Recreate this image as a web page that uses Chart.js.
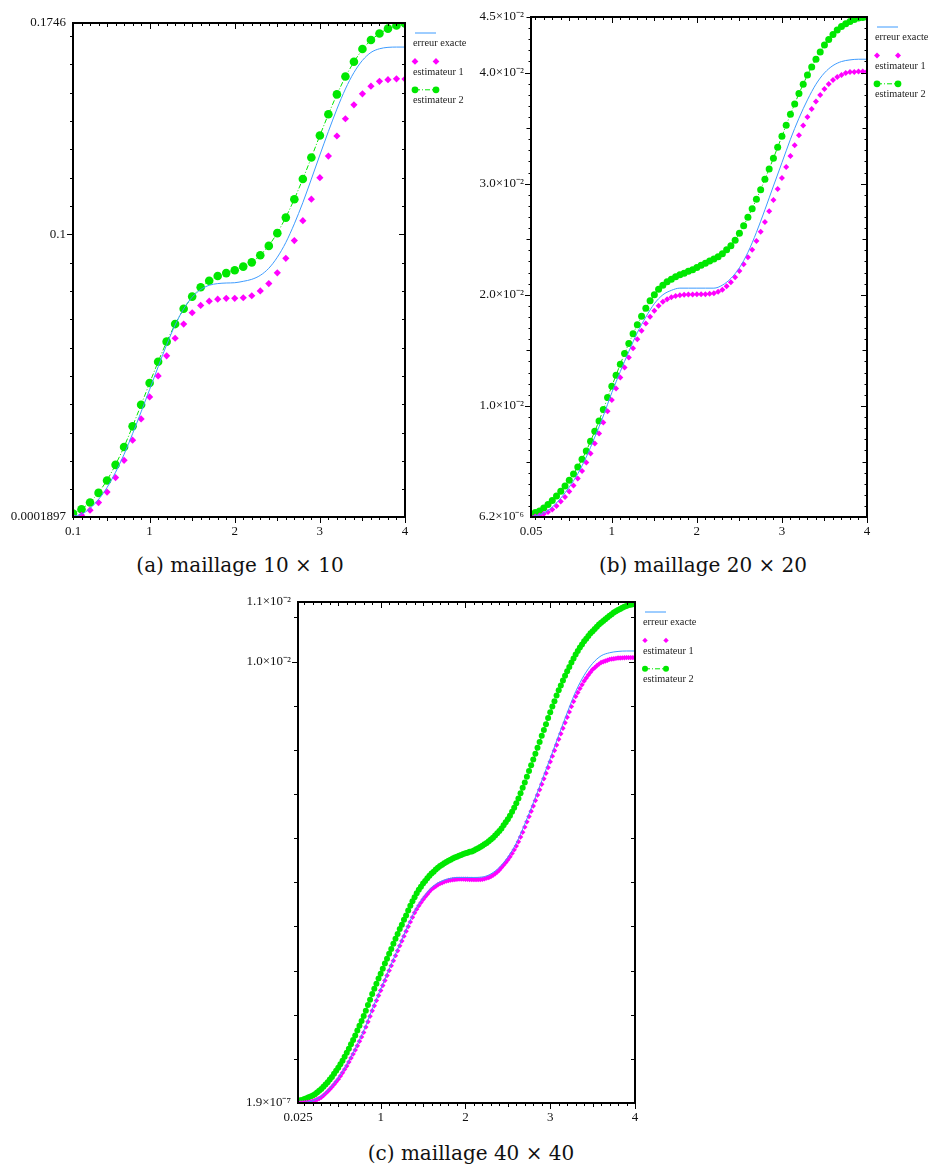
<!DOCTYPE html>
<html>
<head>
<meta charset="utf-8">
<script src="https://cdn.jsdelivr.net/npm/chart.js@4.4.1/dist/chart.umd.min.js"></script>
<style>
  body { margin: 0; background: #fff; width: 931px; height: 1172px; position: relative; overflow: hidden; }
  canvas { position: absolute; }
  .cap { position: absolute; font-family: 'DejaVu Serif'; font-size: 20px; line-height: 20px; color: #111; white-space: nowrap; transform: translateX(-50%); }
</style>
</head>
<body>
<canvas id="chartA" width="470" height="545" style="left:0px;top:0px"></canvas>
<canvas id="chartB" width="461" height="545" style="left:470px;top:0px"></canvas>
<canvas id="chartC" width="480" height="545" style="left:230px;top:585px"></canvas>
<div class="cap" style="left:240px;top:555px">(a) maillage 10 × 10</div>
<div class="cap" style="left:703px;top:555px">(b) maillage 20 × 20</div>
<div class="cap" style="left:471px;top:1143px">(c) maillage 40 × 40</div>
<script>
// ---- maillage 10 x 10 ----
const xA = [0.1,0.2,0.3,0.4,0.5,0.6,0.7,0.8,0.9,1,1.1,1.2,1.3,1.4,1.5,1.6,1.7,1.8,1.9,2,2.1,2.2,2.3,2.4,2.5,2.6,2.7,2.8,2.9,3,3.1,3.2,3.3,3.4,3.5,3.6,3.7,3.8,3.9,4];
const exactA = [0.0004,0.0012,0.0032,0.0064,0.0106,0.0160,0.0223,0.0296,0.0373,0.0452,0.0532,0.0610,0.0680,0.0737,0.0778,0.0805,0.0820,0.0826,0.0828,0.0829,0.0834,0.0841,0.0855,0.0880,0.0919,0.0971,0.1037,0.1112,0.1195,0.1280,0.1363,0.1442,0.1513,0.1571,0.1614,0.1642,0.1655,0.1660,0.1661,0.1661];
const est1A = [0.0001897,0.0008,0.0026,0.0053,0.0090,0.0141,0.0202,0.0273,0.0348,0.0426,0.0500,0.0571,0.0633,0.0683,0.0723,0.0749,0.0764,0.0771,0.0774,0.0774,0.0776,0.0783,0.0800,0.0826,0.0864,0.0915,0.0978,0.1048,0.1124,0.1200,0.1276,0.1347,0.1408,0.1457,0.1496,0.1523,0.1540,0.1546,0.1549,0.1548];
const est2A = [0.0014,0.0029,0.0053,0.0087,0.0131,0.0186,0.0249,0.0322,0.0398,0.0475,0.0550,0.0621,0.0683,0.0737,0.0780,0.0813,0.0836,0.0853,0.0863,0.0873,0.0886,0.0901,0.0926,0.0959,0.1004,0.1059,0.1124,0.1195,0.1271,0.1349,0.1424,0.1494,0.1557,0.1609,0.1654,0.1686,0.1709,0.1726,0.1737,0.1744];
const xTicksA = [0.1, 1, 2, 3, 4];
const yTicksA = [0.0001897, 0.1, 0.1746];
const yLabelsA = ['0.0001897', '0.1', '0.1746'];

// ---- maillage 20 x 20 ----
const xB = [0.05,0.1,0.15,0.2,0.25,0.3,0.35,0.4,0.45,0.5,0.55,0.6,0.65,0.7,0.75,0.8,0.85,0.9,0.95,1,
  1.05,1.1,1.15,1.2,1.25,1.3,1.35,1.4,1.45,1.5,1.55,1.6,1.65,1.7,1.75,1.8,1.85,1.9,1.95,2,
  2.05,2.1,2.15,2.2,2.25,2.3,2.35,2.4,2.45,2.5,2.55,2.6,2.65,2.7,2.75,2.8,2.85,2.9,2.95,3,
  3.05,3.1,3.15,3.2,3.25,3.3,3.35,3.4,3.45,3.5,3.55,3.6,3.65,3.7,3.75,3.8,3.85,3.9,3.95,4];
const est1B = [0.0000062,0.00006,0.00015,0.00027,0.00045,0.00069,0.00099,0.00139,0.00180,0.00229,
  0.00283,0.00346,0.00414,0.00490,0.00571,0.00661,0.00751,0.00850,0.00952,0.01054,
  0.01157,0.01256,0.01346,0.01436,0.01520,0.01601,0.01676,0.01742,0.01802,0.01856,
  0.01901,0.01937,0.01961,0.01979,0.01990,0.01997,0.02000,0.02002,0.02003,0.02004,
  0.02004,0.02006,0.02009,0.02015,0.02027,0.02045,0.02076,0.02112,0.02157,0.02214,
  0.02274,0.02337,0.02405,0.02484,0.02568,0.02655,0.02751,0.02853,0.02952,0.03051,
  0.03150,0.03250,0.03346,0.03436,0.03523,0.03601,0.03673,0.03739,0.03799,0.03853,
  0.03896,0.03932,0.03959,0.03979,0.03995,0.04004,0.04006,0.04009,0.04009,0.04009];
const est2B = [0.00024,0.00040,0.00054,0.00081,0.00114,0.00150,0.00190,0.00232,0.00280,0.00332,
  0.00388,0.00450,0.00520,0.00595,0.00682,0.00772,0.00865,0.00968,0.01075,0.01178,
  0.01277,0.01376,0.01472,0.01562,0.01649,0.01730,0.01808,0.01880,0.01946,0.02000,
  0.02049,0.02087,0.02117,0.02141,0.02162,0.02180,0.02195,0.02211,0.02225,0.02245,
  0.02265,0.02285,0.02304,0.02322,0.02342,0.02369,0.02405,0.02441,0.02490,0.02553,
  0.02622,0.02697,0.02775,0.02860,0.02946,0.03040,0.03132,0.03229,0.03328,0.03427,
  0.03526,0.03625,0.03718,0.03811,0.03895,0.03979,0.04051,0.04120,0.04186,0.04247,
  0.04297,0.04342,0.04382,0.04414,0.04439,0.04459,0.04477,0.04490,0.04495,0.04500];
const xExactB = [0.05,0.1,0.2,0.3,0.4,0.5,0.6,0.7,0.8,0.9,1,1.1,1.2,1.3,1.4,1.5,1.6,1.7,1.8,1.9,2,2.1,2.2,2.3,2.4,2.5,2.6,2.7,2.8,2.9,3,3.1,3.2,3.3,3.4,3.5,3.6,3.7,3.8,3.9,4];
const exactB = [0.00003,0.0001,0.00036,0.0009,0.0017,0.0027,0.0039,0.0054,0.0072,0.0091,0.0112,
  0.0131,0.0149,0.0166,0.0180,0.0192,0.0200,0.0204,0.0206,0.0206,0.0206,
  0.0206,0.0206,0.02087,0.02148,0.02243,0.02382,0.02562,0.02766,0.02979,0.03189,
  0.03400,0.03589,0.03754,0.03895,0.03997,0.04063,0.04099,0.04114,0.04120,0.04120];
const xTicksB = [0.05, 1, 2, 3, 4];
const yTicksB = [0.0000062, 0.01, 0.02, 0.03, 0.04, 0.045];
const yLabelsB = ['6.2×10⁻⁶', '1.0×10⁻²', '2.0×10⁻²', '3.0×10⁻²', '4.0×10⁻²', '4.5×10⁻²'];

// ---- maillage 40 x 40 ----
const xC = [0.025,0.05,0.075,0.1,0.125,0.15,0.175,0.2,0.225,0.25,0.275,0.3,0.325,0.35,0.375,0.4,0.425,0.45,0.475,0.5,
  0.525,0.55,0.575,0.6,0.625,0.65,0.675,0.7,0.725,0.75,0.775,0.8,0.825,0.85,0.875,0.9,0.925,0.95,0.975,1,
  1.025,1.05,1.075,1.1,1.125,1.15,1.175,1.2,1.225,1.25,1.275,1.3,1.325,1.35,1.375,1.4,1.425,1.45,1.475,1.5,
  1.525,1.55,1.575,1.6,1.625,1.65,1.675,1.7,1.725,1.75,1.775,1.8,1.825,1.85,1.875,1.9,1.925,1.95,1.975,2,
  2.025,2.05,2.075,2.1,2.125,2.15,2.175,2.2,2.225,2.25,2.275,2.3,2.325,2.35,2.375,2.4,2.425,2.45,2.475,2.5,
  2.525,2.55,2.575,2.6,2.625,2.65,2.675,2.7,2.725,2.75,2.775,2.8,2.825,2.85,2.875,2.9,2.925,2.95,2.975,3,
  3.025,3.05,3.075,3.1,3.125,3.15,3.175,3.2,3.225,3.25,3.275,3.3,3.325,3.35,3.375,3.4,3.425,3.45,3.475,3.5,
  3.525,3.55,3.575,3.6,3.625,3.65,3.675,3.7,3.725,3.75,3.775,3.8,3.825,3.85,3.875,3.9,3.925,3.95,3.975,4];
const est1C = [0.0000002,0.000001,0.000003,0.000005,0.000010,0.000017,0.000027,0.000040,0.000058,0.000079,
  0.000103,0.000130,0.000170,0.000213,0.000260,0.000310,0.000365,0.000422,0.000480,0.000540,
  0.000612,0.000686,0.000762,0.000840,0.000928,0.001018,0.001108,0.001200,0.001298,0.001398,
  0.001498,0.001600,0.001720,0.001842,0.001965,0.002090,0.002205,0.002320,0.002435,0.002550,
  0.002662,0.002775,0.002888,0.003000,0.003112,0.003225,0.003338,0.003450,0.003560,0.003670,
  0.003780,0.003890,0.003997,0.004103,0.004208,0.004310,0.004392,0.004468,0.004540,0.004610,
  0.004672,0.004730,0.004788,0.004840,0.004877,0.004912,0.004943,0.004970,0.004990,0.005010,
  0.005027,0.005040,0.005050,0.005058,0.005065,0.005070,0.005072,0.005072,0.005071,0.005070,
  0.005068,0.005065,0.005062,0.005060,0.005060,0.005062,0.005065,0.005070,0.005080,0.005095,
  0.005110,0.005130,0.005160,0.005195,0.005235,0.005280,0.005335,0.005390,0.005450,0.005510,
  0.005580,0.005655,0.005735,0.005820,0.005920,0.006025,0.006135,0.006250,0.006370,0.006490,
  0.006610,0.006730,0.006852,0.006975,0.007098,0.007220,0.007345,0.007472,0.007600,0.007730,
  0.007858,0.007985,0.008112,0.008240,0.008365,0.008490,0.008615,0.008740,0.008860,0.008980,
  0.009095,0.009210,0.009300,0.009390,0.009475,0.009560,0.009628,0.009695,0.009758,0.009820,
  0.009862,0.009905,0.009943,0.009980,0.009998,0.010015,0.010032,0.010050,0.010058,0.010065,
  0.010072,0.010080,0.010083,0.010085,0.010088,0.010090,0.010090,0.010090,0.010090,0.010090];
const est2C = [0.00005,0.00006,0.00007,0.00009,0.00011,0.00013,0.00015,0.00017,0.00020,0.00024,
  0.00028,0.00032,0.00037,0.00042,0.00047,0.00053,0.00059,0.00066,0.00073,0.00080,
  0.00088,0.00096,0.00105,0.00114,0.00123,0.00133,0.00143,0.00153,0.00164,0.00175,
  0.00186,0.00197,0.00209,0.00222,0.00234,0.00247,0.00259,0.00270,0.00282,0.00293,
  0.00304,0.00316,0.00327,0.00338,0.00349,0.00361,0.00372,0.00383,0.00394,0.00404,
  0.00415,0.00425,0.00436,0.00447,0.00457,0.00466,0.00475,0.00483,0.00490,0.00497,
  0.00503,0.00509,0.00515,0.00520,0.00524,0.00529,0.00533,0.00537,0.00540,0.00543,
  0.00546,0.00549,0.00551,0.00554,0.00556,0.00558,0.00560,0.00562,0.00564,0.00566,
  0.00567,0.00569,0.00570,0.00572,0.00575,0.00577,0.00580,0.00583,0.00586,0.00589,
  0.00593,0.00597,0.00601,0.00606,0.00611,0.00616,0.00622,0.00629,0.00636,0.00643,
  0.00651,0.00660,0.00669,0.00679,0.00690,0.00702,0.00714,0.00726,0.00739,0.00752,
  0.00765,0.00778,0.00791,0.00805,0.00818,0.00832,0.00845,0.00858,0.00872,0.00885,
  0.00898,0.00910,0.00923,0.00935,0.00946,0.00957,0.00968,0.00978,0.00988,0.00998,
  0.01007,0.01016,0.01024,0.01032,0.01039,0.01046,0.01052,0.01058,0.01064,0.01069,
  0.01074,0.01079,0.01084,0.01088,0.01092,0.01096,0.01100,0.01104,0.01107,0.01111,
  0.01114,0.01117,0.01119,0.01122,0.01124,0.01126,0.01128,0.01129,0.01130,0.01131];
const xExactC = [0.025,0.1,0.2,0.3,0.4,0.5,0.6,0.7,0.8,0.9,1,1.1,1.2,1.3,1.4,1.5,1.6,1.7,1.8,1.9,2,2.1,2.2,2.3,2.4,2.5,2.6,2.7,2.8,2.9,3,3.1,3.2,3.3,3.4,3.5,3.6,3.7,3.8,3.9,4];
const exactC = [0.0000002,0.00001,0.00005,0.00015,0.00033,0.00057,0.00087,0.00123,0.00164,0.00212,0.00258,
  0.00303,0.00348,0.00392,0.00434,0.00465,0.00488,0.00501,0.00508,0.00511,0.00511,
  0.00511,0.00512,0.00519,0.00534,0.00557,0.00589,0.00632,0.00680,0.00730,0.00781,
  0.00833,0.00884,0.00932,0.00969,0.00996,0.01013,0.01020,0.01023,0.01024,0.01024];
const xTicksC = [0.025, 1, 2, 3, 4];
const yTicksC = [0.00000019, 0.01, 0.01135];
const yLabelsC = ['1.9×10⁻⁷', '1.0×10⁻²', '1.1×10⁻²'];

const BLUE = '#3d9bff';
const MAGENTA = '#ff00ff';
const GREEN = '#00e800';

Chart.defaults.font.family = 'Liberation Serif';

function pts(xs, ys) {
  return xs.map((x, i) => ({ x: x, y: ys[i] }));
}

// cadre + petites graduations (style Maple)
const framePlugin = {
  id: 'frame',
  afterDraw(chart, args, o) {
    const ctx = chart.ctx;
    const a = chart.chartArea;
    const x = chart.scales.x, y = chart.scales.y;
    ctx.save();
    ctx.strokeStyle = '#000';
    ctx.lineWidth = 1;
    ctx.beginPath();
    for (let i = Math.ceil(x.min * 10 - 1e-9); i <= Math.round(x.max * 10); i++) {
      const px = Math.round(x.getPixelForValue(i / 10)) + 0.5;
      const len = i % 10 === 0 ? 6 : (i % 5 === 0 ? 4 : 3);
      ctx.moveTo(px, a.bottom); ctx.lineTo(px, a.bottom + len);
      ctx.moveTo(px, a.top); ctx.lineTo(px, a.top + len);
    }
    const n0 = Math.ceil(y.min / o.yStep - 1e-9), n1 = Math.floor(y.max / o.yStep + 1e-9);
    for (let i = n0; i <= n1; i++) {
      const py = Math.round(y.getPixelForValue(i * o.yStep)) + 0.5;
      let len = i % o.yMajor === 0 ? 6 : o.yMinorLen;
      if (o.yMid && i % o.yMid === 0 && i % o.yMajor !== 0) len = 4.5;
      ctx.moveTo(a.left - len, py); ctx.lineTo(a.left, py);
      ctx.moveTo(a.right - len, py); ctx.lineTo(a.right, py);
    }
    ctx.stroke();
    ctx.lineWidth = 2;
    ctx.strokeRect(a.left, a.top, a.right - a.left, a.bottom - a.top);
    ctx.restore();
  }
};

// légende à droite : échantillon au-dessus, texte dessous
const sideLegend = {
  id: 'sideLegend',
  afterDraw(chart) {
    const ctx = chart.ctx;
    const a = chart.chartArea;
    const x0 = a.right + 10, x1 = a.right + 31;
    ctx.save();
    chart.data.datasets.forEach((d, i) => {
      const yy = a.top + 10 + i * 28.4;
      if (d.showLine) {
        ctx.strokeStyle = d.borderColor;
        ctx.lineWidth = 1;
        ctx.setLineDash(d.borderDash || []);
        ctx.beginPath();
        ctx.moveTo(x0, yy); ctx.lineTo(x1, yy);
        ctx.stroke();
        ctx.setLineDash([]);
      }
      if (d.pointRadius > 0) {
        ctx.fillStyle = d.backgroundColor;
        ctx.strokeStyle = d.backgroundColor;
        [x0, x1].forEach(px => {
          Chart.helpers.drawPoint(ctx, { pointStyle: d.pointStyle, radius: Math.min(d.pointRadius, 3.4), rotation: 0, borderWidth: 0 }, px, yy);
        });
      }
      ctx.fillStyle = '#222';
      ctx.font = '10.3px "Liberation Serif"';
      ctx.textBaseline = 'middle';
      ctx.fillText(d.label, a.right + 8, yy + 10.5);
    });
    ctx.restore();
  }
};

function buildChart(id, s) {
  return new Chart(document.getElementById(id), {
    type: 'scatter',
    data: {
      datasets: [
        { label: 'erreur exacte', data: pts(s.xExact, s.exact), showLine: true, borderColor: BLUE, backgroundColor: BLUE,
          borderWidth: 1, pointRadius: 0, cubicInterpolationMode: 'monotone', clip: 0 },
        { label: 'estimateur 1', data: pts(s.x, s.est1), showLine: false, pointStyle: 'rectRot', pointRadius: s.r1,
          backgroundColor: MAGENTA, borderColor: MAGENTA, borderWidth: 0, clip: 0 },
        { label: 'estimateur 2', data: pts(s.x, s.est2), showLine: true, pointStyle: 'circle', pointRadius: s.r2,
          backgroundColor: GREEN, borderColor: GREEN, borderWidth: 1, pointBorderWidth: 0, borderDash: [5, 2, 1, 2], clip: 0 }
      ]
    },
    options: {
      responsive: false,
      animation: false,
      events: [],
      layout: { padding: { top: s.padTop, right: s.padRight, left: 0, bottom: 0 } },
      plugins: {
        legend: { display: false },
        tooltip: { enabled: false },
        frame: { yStep: s.yStep, yMajor: s.yMajor, yMid: s.yMid, yMinorLen: s.yMinorLen }
      },
      scales: {
        x: {
          type: 'linear', min: s.xTicks[0], max: 4,
          grid: { display: false, drawTicks: false }, border: { display: false },
          afterFit: sc => { sc.height = s.xAxisH; },
          afterBuildTicks: sc => { sc.ticks = s.xTicks.map(v => ({ value: v })); },
          ticks: { autoSkip: false, maxRotation: 0, padding: 7, color: '#111', font: { size: 13 }, callback: v => String(v) }
        },
        y: {
          type: 'linear', min: s.yTicks[0], max: s.yTicks[s.yTicks.length - 1],
          grid: { display: false, drawTicks: false }, border: { display: false },
          afterFit: sc => { sc.width = s.yAxisW; },
          afterBuildTicks: sc => { sc.ticks = s.yTicks.map(v => ({ value: v })); },
          ticks: { autoSkip: false, padding: 7, color: '#111', font: { size: 13 },
            callback: v => s.yLabels[s.yTicks.findIndex(t => Math.abs(t - v) < 1e-12)] }
        }
      }
    },
    plugins: [framePlugin, sideLegend]
  });
}

buildChart('chartA', { x: xA, est1: est1A, est2: est2A, xExact: xA, exact: exactA,
  xTicks: xTicksA, yTicks: yTicksA, yLabels: yLabelsA, r1: 3.6, r2: 4.3,
  padTop: 23, padRight: 65, yAxisW: 73, xAxisH: 28, yStep: 0.01, yMajor: 10, yMinorLen: 3 });

buildChart('chartB', { x: xB, est1: est1B, est2: est2B, xExact: xExactB, exact: exactB,
  xTicks: xTicksB, yTicks: yTicksB, yLabels: yLabelsB, r1: 3, r2: 3.5,
  padTop: 17, padRight: 64, yAxisW: 61, xAxisH: 28, yStep: 0.001, yMajor: 10, yMid: 5, yMinorLen: 2.5 });

buildChart('chartC', { x: xC, est1: est1C, est2: est2C, xExact: xExactC, exact: exactC,
  xTicks: xTicksC, yTicks: yTicksC, yLabels: yLabelsC, r1: 2.7, r2: 3,
  padTop: 17, padRight: 75, yAxisW: 68, xAxisH: 27, yStep: 0.001, yMajor: 10, yMinorLen: 4 });
</script>
</body>
</html>
